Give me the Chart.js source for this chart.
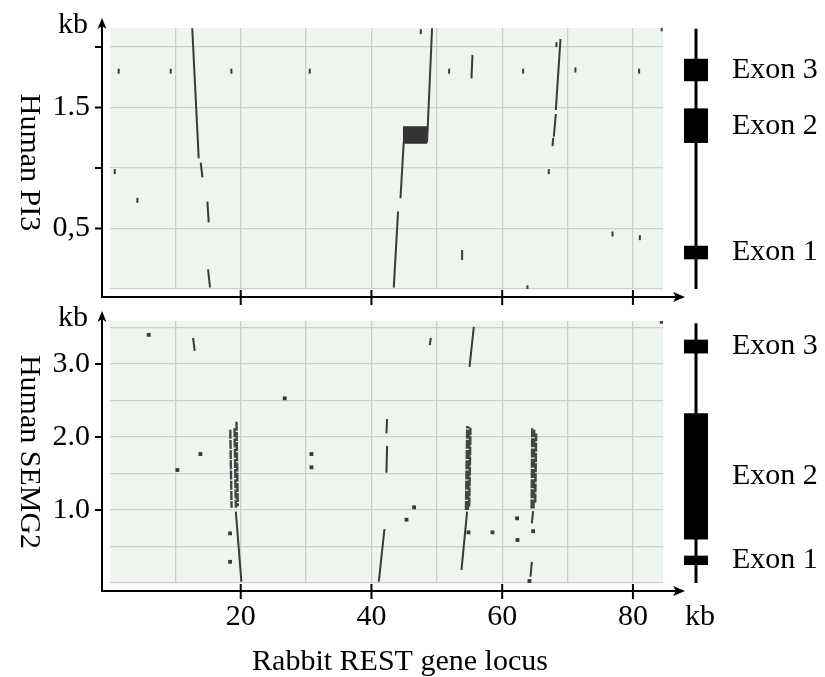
<!DOCTYPE html>
<html>
<head>
<meta charset="utf-8">
<title>Rabbit REST locus dot plots</title>
<script src="https://cdn.jsdelivr.net/npm/chart.js@4.4.1/dist/chart.umd.min.js"></script>
<style>
  html, body { margin: 0; padding: 0; background: #fff; }
  #wrap { position: relative; width: 825px; height: 677px; }
  #wrap canvas { position: absolute; left: 0; top: 0; }
</style>
</head>
<body>
<div id="wrap">
  <canvas id="pi3Plot" width="825" height="677"></canvas>
  <canvas id="pi3Gene" width="825" height="677"></canvas>
  <canvas id="semg2Plot" width="825" height="677"></canvas>
  <canvas id="semg2Gene" width="825" height="677"></canvas>
</div>
<script>
// Rabbit REST locus (x, kb) against human PI3 (y, kb)
// segments are [x1, y1, x2, y2]
const pi3Segments = [
    [12.58, 2.155, 13.57, 1.08],
    [13.88, 1.044, 14.14, 0.923],
    [14.90, 0.722, 15.10, 0.551],
    [15.00, 0.163, 15.30, 0.014],
    [43.41, 0.011, 44.07, 0.64],
    [44.44, 0.75, 44.94, 1.217],
    [48.51, 1.217, 49.27, 2.155],
    [55.30, 1.741, 55.45, 1.934],
    [68.20, 1.479, 68.92, 2.066],
    [67.90, 1.259, 68.20, 1.446],
    [67.70, 1.18, 67.80, 1.25],
    [53.87, 0.24, 53.87, 0.322]
];
const pi3Dots = [
    [1.33, 1.80], [9.29, 1.80], [18.57, 1.80], [30.56, 1.80], [0.72, 0.97],
    [4.19, 0.733], [47.55, 2.127], [51.88, 1.80], [63.2, 1.80], [71.2, 1.81],
    [80.95, 1.80], [67.13, 0.97], [76.87, 0.455], [81.06, 0.424], [63.87, 0.01],
    [84.4, 2.15], [68.3, 2.02]
];
// the repeat block around 45-48 kb
const pi3BlockX = [44.9, 48.5, 48.5, 44.9, 44.9];
const pi3BlockY = [1.205, 1.205, 1.34, 1.34, 1.205];
const pi3Exons = [[1.72, 1.90], [1.21, 1.49], [0.248, 0.355]];
const pi3Span = [0, 2.15];
const pi3TickMarks = [0.5, 1.0, 1.5, 2.0];
const pi3LabelValues = [0.5, 1.5];
const pi3LabelText = ['0,5', '1.5'];

// Rabbit REST locus against human SEMG2
const semg2Segments = [
    [12.71, 3.36, 12.96, 3.18],
    [19.25, 0.977, 20.10, 0.018],
    [41.12, 0.018, 41.99, 0.74],
    [42.29, 2.05, 42.39, 2.247],
    [42.29, 1.51, 42.39, 1.877],
    [48.92, 3.26, 49.08, 3.36],
    [55.00, 2.96, 55.66, 3.51],
    [53.77, 0.178, 54.63, 0.977],
    [64.53, 0.818, 64.73, 0.986],
    [64.33, 0.086, 64.53, 0.29]
];
// dense repeat bands (exon 2 hits)
const semg2Bands = [
    [18.40, 2.10, 18.60, 1.03],
    [19.05, 2.12, 19.25, 1.03],
    [19.35, 2.21, 19.55, 1.05],
    [54.45, 1.00, 54.65, 2.15],
    [54.75, 1.00, 54.95, 2.14],
    [54.95, 1.05, 55.15, 2.12],
    [64.50, 1.02, 64.60, 2.12],
    [64.80, 1.02, 64.90, 2.10],
    [65.05, 1.10, 65.20, 2.05]
];
const semg2Dots = [
    [5.92, 3.40], [26.73, 2.53], [13.83, 1.767], [10.31, 1.548], [30.82, 1.767],
    [30.82, 1.585], [18.37, 0.68], [18.37, 0.29], [46.52, 1.037], [45.36, 0.867],
    [54.84, 0.694], [58.51, 0.694], [62.28, 0.886], [62.34, 0.589], [64.73, 0.71],
    [64.17, 0.027], [84.4, 3.58]
];
const semg2Exons = [[3.15, 3.33], [0.60, 2.32], [0.25, 0.37]];
const semg2Span = [0, 3.56];
const semg2TickMarks = [1, 2, 3];
const semg2LabelValues = [1, 2, 3];
const semg2LabelText = ['1.0', '2.0', '3.0'];

const exonNames = ['Exon 3', 'Exon 2', 'Exon 1'];
const xTickMarks = [20, 40, 60, 80];

const FONT = '"Liberation Serif", "Times New Roman", serif';
const INK = '#3a3a3a';
Chart.defaults.font.family = FONT;

// turn [x1,y1,x2,y2] pairs into one broken line
function segPoints(segs) {
    const pts = [];
    segs.forEach(s => {
        pts.push({ x: s[0], y: s[1] }, { x: s[2], y: s[3] }, { x: s[2], y: null });
    });
    return pts;
}

// fixed axis size, and no extra room for half labels
function pinBox(w, h) {
    return s => {
        if (w !== null) s.width = w;
        if (h !== null) s.height = h;
        s.paddingTop = 0; s.paddingBottom = 0;
        s.paddingLeft = 0; s.paddingRight = 0;
    };
}

// background, offset axes with arrows, titles
const offsetAxes = {
    id: 'offsetAxes',
    beforeDraw(chart) {
        const { ctx, chartArea: a } = chart;
        ctx.save();
        ctx.fillStyle = '#edf5ee';
        ctx.fillRect(a.left, a.top, a.right - a.left, a.bottom - a.top);
        ctx.restore();
    },
    afterDraw(chart, args, o) {
        const { ctx, chartArea: a, scales: { x, y } } = chart;
        const ax = a.left - 8, ay = a.bottom + 8;
        ctx.save();
        ctx.strokeStyle = '#000';
        ctx.fillStyle = '#000';
        ctx.lineWidth = 2;
        ctx.beginPath();
        ctx.moveTo(ax, ay); ctx.lineTo(ax, a.top - 2);
        ctx.moveTo(ax - 1, ay); ctx.lineTo(a.right + 14, ay);
        o.yMarks.forEach(v => {
            const py = y.getPixelForValue(v);
            ctx.moveTo(ax - 7, py); ctx.lineTo(ax, py);
        });
        xTickMarks.forEach(v => {
            const px = x.getPixelForValue(v);
            ctx.moveTo(px, ay - 7); ctx.lineTo(px, ay + 8);
        });
        ctx.stroke();

        // arrow heads
        ctx.beginPath();
        ctx.moveTo(ax, a.top - 10);
        ctx.lineTo(ax - 4.5, a.top + 1);
        ctx.lineTo(ax, a.top - 2);
        ctx.lineTo(ax + 4.5, a.top + 1);
        ctx.closePath();
        ctx.moveTo(a.right + 22, ay);
        ctx.lineTo(a.right + 10, ay - 5);
        ctx.lineTo(a.right + 13, ay);
        ctx.lineTo(a.right + 10, ay + 5);
        ctx.closePath();
        ctx.fill();

        ctx.font = '30px ' + FONT;
        ctx.textBaseline = 'alphabetic';
        ctx.textAlign = 'right';
        ctx.fillText('kb', a.left - 22, a.top + 5);

        ctx.save();
        ctx.translate(29, (a.top + a.bottom) / 2 + o.titleShift);
        ctx.rotate(Math.PI / 2);
        ctx.textAlign = 'center';
        ctx.textBaseline = 'middle';
        ctx.fillText(o.title, 0, 0);
        ctx.restore();

        if (o.xTitle) {
            ctx.textAlign = 'left';
            ctx.fillText('kb', a.right + 22, 625);
            ctx.textAlign = 'center';
            ctx.fillText(o.xTitle, 400, 670);
        }
        ctx.restore();
    }
};

function makePlot(id, cfg) {
    const datasets = [
        {
            data: segPoints(cfg.segments), showLine: true, borderColor: INK,
            borderWidth: 2, pointRadius: 0, spanGaps: false
        },
        {
            data: cfg.dots.map(d => ({ x: d[0], y: d[1] })), showLine: false,
            pointStyle: cfg.dotStyle, rotation: 90, pointRadius: cfg.dotSize,
            borderWidth: 2, borderColor: INK, backgroundColor: INK
        }
    ];
    if (cfg.bands) {
        datasets.push({
            data: segPoints(cfg.bands), showLine: true, borderColor: '#444',
            borderWidth: 2.4, borderDash: [9, 1.2], pointRadius: 0, spanGaps: false
        });
    }
    if (cfg.blockX) {
        datasets.push({
            data: cfg.blockX.map((v, i) => ({ x: v, y: cfg.blockY[i] })),
            showLine: true, fill: 'shape', backgroundColor: '#333',
            borderColor: '#333', borderWidth: 1, pointRadius: 0
        });
    }

    return new Chart(document.getElementById(id), {
        type: 'scatter',
        data: { datasets: datasets },
        plugins: [offsetAxes],
        options: {
            responsive: false,
            animation: false,
            events: [],
            layout: { padding: { left: 0, right: 162, top: cfg.top, bottom: cfg.padBottom } },
            plugins: {
                legend: { display: false },
                tooltip: { enabled: false },
                offsetAxes: { yMarks: cfg.marks, title: cfg.title, xTitle: cfg.xTitle, titleShift: cfg.titleShift }
            },
            scales: {
                x: {
                    type: 'linear', min: 0, max: 84.6,
                    border: { display: false },
                    grid: {
                        drawTicks: false, lineWidth: 1.3,
                        color: c => (c.tick && c.tick.value === 0) ? 'rgba(0,0,0,0)' : '#cdcdcd'
                    },
                    ticks: {
                        display: cfg.showX, stepSize: 10, includeBounds: false, autoSkip: false,
                        maxRotation: 0, padding: 16, color: '#000', font: { size: 30 },
                        callback: v => xTickMarks.includes(v) ? String(v) : ''
                    },
                    afterFit: pinBox(null, cfg.xHeight)
                },
                y: {
                    type: 'linear', min: 0, max: cfg.yMax,
                    border: { display: false },
                    grid: { drawTicks: false, lineWidth: 1.3, color: '#cdcdcd' },
                    ticks: {
                        stepSize: 0.5, includeBounds: false, autoSkip: false, padding: 20,
                        color: '#000', font: { size: 30 },
                        callback: v => {
                            const i = cfg.labelValues.indexOf(v);
                            return i >= 0 ? cfg.labelText[i] : '';
                        }
                    },
                    afterFit: pinBox(110, null)
                }
            }
        }
    });
}

function makeGene(id, top, bottom, yMax, exons, span) {
    const datasets = exons.map(e => ({
        data: [e], backgroundColor: '#000', borderWidth: 0,
        grouped: false, barPercentage: 1, categoryPercentage: 1
    }));
    datasets.push({
        type: 'line', data: [{ x: 'gene', y: span[0] }, { x: 'gene', y: span[1] }],
        borderColor: '#000', borderWidth: 3, pointRadius: 0
    });
    return new Chart(document.getElementById(id), {
        type: 'bar',
        data: { labels: ['gene'], datasets: datasets },
        options: {
            responsive: false,
            animation: false,
            events: [],
            layout: { padding: { left: 684, right: 0, top: top, bottom: 677 - bottom } },
            plugins: { legend: { display: false }, tooltip: { enabled: false } },
            scales: {
                x: { display: false },
                y: {
                    position: 'right', min: 0, max: yMax,
                    grid: { display: false, drawTicks: false },
                    border: { display: false },
                    afterBuildTicks: s => { s.ticks = exons.map(e => ({ value: (e[0] + e[1]) / 2 })); },
                    ticks: {
                        autoSkip: false, padding: 24, color: '#000', font: { size: 30 },
                        callback: (v, i) => exonNames[i]
                    },
                    afterFit: pinBox(117, null)
                }
            }
        }
    });
}

makePlot('pi3Plot', {
    segments: pi3Segments, dots: pi3Dots, dotStyle: 'line', dotSize: 2.5,
    blockX: pi3BlockX, blockY: pi3BlockY,
    marks: pi3TickMarks, labelValues: pi3LabelValues, labelText: pi3LabelText,
    title: 'Human PI3', titleShift: 4,
    yMax: 2.157, top: 28, xHeight: 11, padBottom: 377, showX: false
});
makePlot('semg2Plot', {
    segments: semg2Segments, bands: semg2Bands, dots: semg2Dots, dotStyle: 'rect', dotSize: 1.3,
    marks: semg2TickMarks, labelValues: semg2LabelValues, labelText: semg2LabelText,
    title: 'Human SEMG2', titleShift: 0, xTitle: 'Rabbit REST gene locus',
    yMax: 3.59, top: 321, xHeight: 94, padBottom: 0, showX: true
});
makeGene('pi3Gene', 28, 289, 2.157, pi3Exons, pi3Span);
makeGene('semg2Gene', 321, 583, 3.59, semg2Exons, semg2Span);
</script>
</body>
</html>
